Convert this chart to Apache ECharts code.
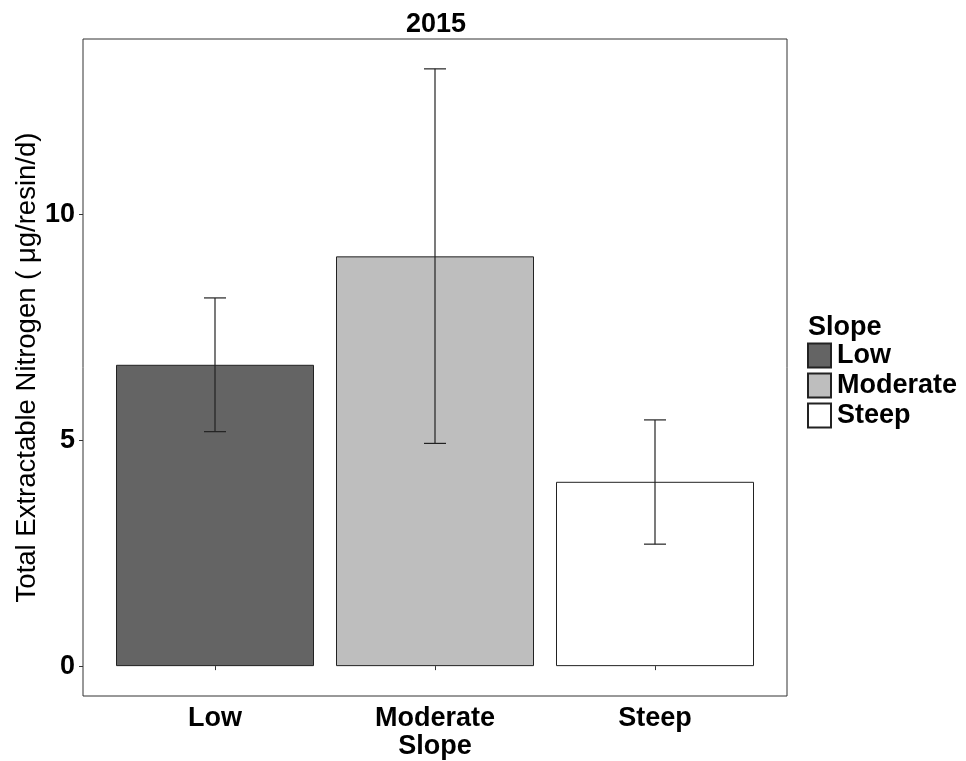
<!DOCTYPE html>
<html>
<head>
<meta charset="utf-8">
<title>2015 – Total Extractable Nitrogen by Slope</title>
<script src="https://cdn.jsdelivr.net/npm/echarts@6/dist/echarts.min.js"></script>
<style>
  html, body { margin: 0; padding: 0; background: #ffffff; }
  #chart { width: 966px; height: 761px; }
</style>
</head>
<body>
<div id="chart"></div>
<script>
// Slope classes and their position on the x scale
var categories = ['Low', 'Moderate', 'Steep'];
var positions = [1, 2, 3];

// Mean total extractable nitrogen (µg/resin/d)
var means = [6.67, 9.07, 4.08];
// Error bar limits
var errLow = [5.19, 4.93, 2.70];
var errHigh = [8.15, 13.22, 5.45];

// Tick labels on the y axis
var yTicks = [0, 5, 10];

var fills = ['#646464', '#bebebe', '#ffffff'];
var FONT = 'Liberation Sans, Arial, sans-serif';

var chart = echarts.init(document.getElementById('chart'), null, { renderer: 'canvas' });

var barSeries = categories.map(function (name, i) {
  return {
    name: name,
    type: 'bar',
    barWidth: 198,
    barGap: '-100%',
    data: [[positions[i], means[i]]],
    itemStyle: { color: fills[i], borderColor: '#222222', borderWidth: 1 },
    z: 2
  };
});

var errorData = positions.map(function (x, i) { return [x, errLow[i], errHigh[i]]; });

var errorSeries = {
  type: 'custom',
  name: 'error',
  data: errorData,
  z: 5,
  renderItem: function (params, api) {
    var x = api.value(0);
    var lo = api.coord([x, api.value(1)]);
    var hi = api.coord([x, api.value(2)]);
    var half = 11;
    var style = { stroke: '#222222', lineWidth: 1.2 };
    return {
      type: 'group',
      children: [
        { type: 'line', shape: { x1: lo[0], y1: lo[1], x2: hi[0], y2: hi[1] }, style: style },
        { type: 'line', shape: { x1: hi[0] - half, y1: hi[1], x2: hi[0] + half, y2: hi[1] }, style: style },
        { type: 'line', shape: { x1: lo[0] - half, y1: lo[1], x2: lo[0] + half, y2: lo[1] }, style: style }
      ]
    };
  }
};

var option = {
  backgroundColor: '#ffffff',
  animation: false,
  title: [
    {
      text: '2015',
      left: 401,
      top: 6,
      textStyle: { fontFamily: FONT, fontSize: 27, fontWeight: 'bold', color: '#000' }
    },
    {
      text: 'Slope',
      left: 803,
      top: 309,
      textStyle: { fontFamily: FONT, fontSize: 27, fontWeight: 'bold', color: '#000' }
    }
  ],
  legend: {
    orient: 'vertical',
    left: 807,
    top: 342,
    icon: 'rect',
    itemWidth: 23,
    itemHeight: 24,
    itemGap: 3,
    padding: 0,
    data: categories,
    textStyle: {
      fontFamily: FONT, fontSize: 27, fontWeight: 'bold', color: '#000',
      lineHeight: 24, padding: [0, 0, 0, 1]
    }
  },
  grid: {
    left: 83,
    right: 179,
    top: 39,
    bottom: 65,
    outerBoundsMode: 'none',
    containLabel: false,
    show: true,
    borderColor: '#333333',
    borderWidth: 1,
    backgroundColor: '#ffffff'
  },
  xAxis: {
    type: 'value',
    min: 0.4,
    max: 3.6,
    name: 'Slope',
    nameLocation: 'middle',
    nameGap: 37,
    nameMoveOverlap: false,
    nameTextStyle: { fontFamily: FONT, fontSize: 27, fontWeight: 'bold', color: '#000' },
    axisLine: { show: false },
    splitLine: { show: false },
    axisTick: { show: true, length: 4, lineStyle: { color: '#333' }, customValues: positions },
    axisLabel: {
      customValues: positions,
      margin: 9,
      fontFamily: FONT,
      fontSize: 27,
      fontWeight: 'bold',
      color: '#000',
      formatter: function (v) { return categories[positions.indexOf(v)] || ''; }
    }
  },
  yAxis: {
    type: 'value',
    min: -0.661,
    max: 13.881,
    name: 'Total Extractable Nitrogen ( μg/resin/d)',
    nameLocation: 'middle',
    nameGap: 42,
    nameMoveOverlap: false,
    nameTextStyle: { fontFamily: FONT, fontSize: 27.5, color: '#000' },
    axisLine: { show: false },
    splitLine: { show: false },
    axisTick: { show: true, length: 4, lineStyle: { color: '#333' }, customValues: yTicks },
    axisLabel: {
      customValues: yTicks,
      margin: 8,
      fontFamily: FONT,
      fontSize: 27,
      fontWeight: 'bold',
      color: '#000'
    }
  },
  series: barSeries.concat([errorSeries])
};

chart.setOption(option);
</script>
</body>
</html>
